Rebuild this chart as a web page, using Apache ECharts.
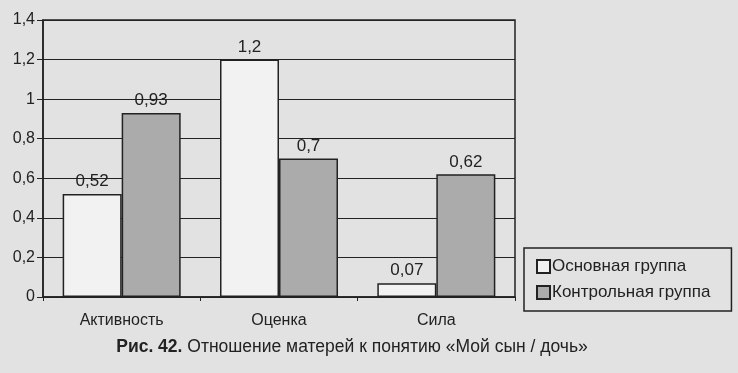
<!DOCTYPE html>
<html><head><meta charset="utf-8">
<script src="https://cdn.jsdelivr.net/npm/echarts@6/dist/echarts.min.js"></script>
<style>html,body{margin:0;padding:0;background:#e2e2e2}#c{width:738px;height:373px}</style>
</head><body><div id="c"></div>
<script>
const categories = ['Активность', 'Оценка', 'Сила'];
const mainGroup = [0.52, 1.2, 0.07];
const controlGroup = [0.93, 0.7, 0.62];
const seriesNames = ['Основная группа', 'Контрольная группа'];
const yTicks = [0, 0.2, 0.4, 0.6, 0.8, 1, 1.2, 1.4];
const captionBold = 'Рис. 42.';
const captionText = ' Отношение матерей к понятию «Мой сын / дочь»';

const fmt = v => String(v).replace('.', ',');
const font = '"Liberation Sans", Arial, sans-serif';
const chart = echarts.init(document.getElementById('c'));
chart.setOption({
  backgroundColor: '#e2e2e2',
  animation: false,
  textStyle: {fontFamily: font, color: '#222'},
  title: {
    left: 347, textAlign: 'center', top: 333,
    text: '{b|' + captionBold + '}{r|' + captionText + '}',
    textStyle: {fontWeight: 'normal', rich: {
      b: {fontFamily: font, fontWeight: 'bold', fontSize: 17.5, color: '#222'},
      r: {fontFamily: font, fontWeight: 'normal', fontSize: 17.5, color: '#222'}
    }}
  },
  legend: {
    orient: 'vertical', left: 524, top: 248, width: 207,
    padding: [10, 21, 10, 12], itemGap: 9,
    borderColor: '#222', borderWidth: 1.5,
    itemWidth: 13, itemHeight: 13, icon: 'rect',
    textStyle: {fontFamily: font, fontSize: 17, color: '#222', padding: [0, 0, 0, -3]},
    data: seriesNames
  },
  grid: {left: 43, right: 223, top: 20, bottom: 76, show: true, borderColor: '#222', borderWidth: 1.5},
  xAxis: {
    type: 'category', data: categories,
    axisLine: {lineStyle: {color: '#222', width: 1.5}},
    axisTick: {show: true, length: 4, lineStyle: {color: '#222'}},
    axisLabel: {fontFamily: font, fontSize: 16, color: '#222', margin: 16}
  },
  yAxis: {
    type: 'value', min: 0, max: 1.4, interval: 0.2,
    axisLine: {show: true, lineStyle: {color: '#222', width: 1.5}},
    axisTick: {show: true, length: 6, lineStyle: {color: '#222'}},
    splitLine: {lineStyle: {color: '#222', width: 1.2}},
    axisLabel: {fontFamily: font, fontSize: 16, color: '#222', margin: 8,
      formatter: v => fmt(+v.toFixed(1))}
  },
  series: [
    {name: seriesNames[0], type: 'bar', data: mainGroup, barGap: '0%', barCategoryGap: '25%',
     itemStyle: {color: '#f2f2f2', borderColor: '#222', borderWidth: 1.5},
     label: {show: true, position: 'top', distance: 4, fontFamily: font, fontSize: 17, color: '#222', formatter: p => fmt(p.value)}},
    {name: seriesNames[1], type: 'bar', data: controlGroup,
     itemStyle: {color: '#ababab', borderColor: '#222', borderWidth: 1.5},
     label: {show: true, position: 'top', distance: 4, fontFamily: font, fontSize: 17, color: '#222', formatter: p => fmt(p.value)}}
  ]
});
</script></body></html>
